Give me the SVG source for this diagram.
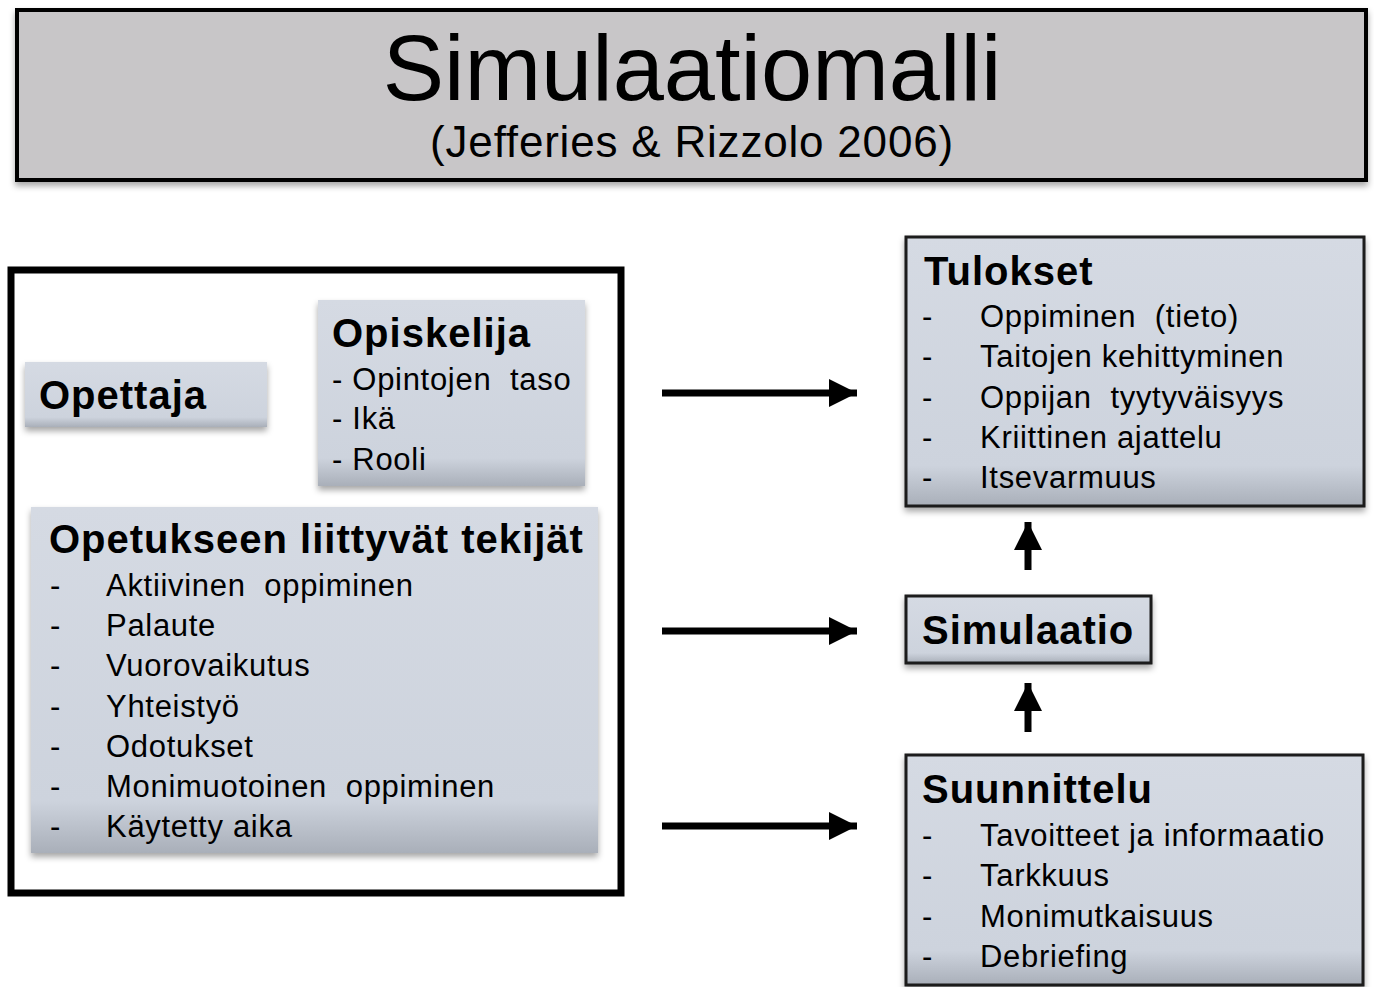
<svg xmlns="http://www.w3.org/2000/svg" width="1374" height="987" viewBox="0 0 1374 987">
<defs>
<linearGradient id="g" x1="0" y1="0" x2="0" y2="1">
<stop offset="0" stop-color="#d5dae3"/>
<stop offset="0.85" stop-color="#cdd3dd"/>
<stop offset="1" stop-color="#a9afb9"/>
</linearGradient>
<filter id="sh" x="-10%" y="-10%" width="120%" height="130%">
<feDropShadow dx="0" dy="4" stdDeviation="3" flood-color="#000" flood-opacity="0.35"/>
</filter>
<marker id="ah" viewBox="0 0 10 10" refX="10" refY="5" markerWidth="4.2" markerHeight="4" markerUnits="strokeWidth" orient="auto">
<path d="M0,0 L10,5 L0,10 Z" fill="#000"/>
</marker>
</defs>
<style>
text{font-family:"Liberation Sans",Arial,sans-serif;fill:#000;white-space:pre}
.h{font-weight:bold;font-size:40px;letter-spacing:1px}
.i{font-size:31px;letter-spacing:0.7px}
.box{fill:url(#g);filter:url(#sh)}
.bbox{fill:url(#g);stroke:#1a1a1a;stroke-width:3;filter:url(#sh)}
.arr{stroke:#000;stroke-width:7;fill:none;marker-end:url(#ah)}
</style>
<rect width="1374" height="987" fill="#fff"/>

<g id="title">
<rect x="17" y="10" width="1349" height="170" fill="#c8c6c8" stroke="#000" stroke-width="4" filter="url(#sh)"/>
<text x="692" y="100" text-anchor="middle" font-size="92">Simulaatiomalli</text>
<text x="692" y="157" text-anchor="middle" font-size="44" letter-spacing="0.8">(Jefferies &amp; Rizzolo 2006)</text>
</g>

<g id="container">
<rect x="11" y="270" width="610" height="623" fill="none" stroke="#000" stroke-width="7"/>
</g>

<g id="opettaja">
<rect x="25" y="362" width="242" height="65" class="box"/>
<text x="39" y="409" class="h">Opettaja</text>
</g>

<g id="opiskelija">
<rect x="318" y="300" width="267" height="186" class="box"/>
<text x="332" y="347" class="h">Opiskelija</text>
<text x="332" y="390" class="i">- Opintojen  taso</text>
<text x="332" y="429" class="i">- Ikä</text>
<text x="332" y="470" class="i">- Rooli</text>
</g>

<g id="opetus">
<rect x="31" y="507" width="567" height="346" class="box"/>
<text x="49" y="553" class="h">Opetukseen liittyvät tekijät</text>
<text x="50" y="596" class="i">-</text><text x="106" y="596" class="i">Aktiivinen  oppiminen</text>
<text x="50" y="636" class="i">-</text><text x="106" y="636" class="i">Palaute</text>
<text x="50" y="676" class="i">-</text><text x="106" y="676" class="i">Vuorovaikutus</text>
<text x="50" y="717" class="i">-</text><text x="106" y="717" class="i">Yhteistyö</text>
<text x="50" y="757" class="i">-</text><text x="106" y="757" class="i">Odotukset</text>
<text x="50" y="797" class="i">-</text><text x="106" y="797" class="i">Monimuotoinen  oppiminen</text>
<text x="50" y="837" class="i">-</text><text x="106" y="837" class="i">Käytetty aika</text>
</g>

<g id="tulokset">
<rect x="906" y="237" width="458" height="269" class="bbox"/>
<text x="924" y="285" class="h">Tulokset</text>
<text x="922" y="327" class="i">-</text><text x="980" y="327" class="i">Oppiminen  (tieto)</text>
<text x="922" y="367" class="i">-</text><text x="980" y="367" class="i">Taitojen kehittyminen</text>
<text x="922" y="408" class="i">-</text><text x="980" y="408" class="i">Oppijan  tyytyväisyys</text>
<text x="922" y="448" class="i">-</text><text x="980" y="448" class="i">Kriittinen ajattelu</text>
<text x="922" y="488" class="i">-</text><text x="980" y="488" class="i">Itsevarmuus</text>
</g>

<g id="simulaatio">
<rect x="906" y="596" width="245" height="67" class="bbox"/>
<text x="922" y="644" class="h">Simulaatio</text>
</g>

<g id="suunnittelu">
<rect x="906" y="755" width="457" height="230" class="bbox"/>
<text x="922" y="803" class="h">Suunnittelu</text>
<text x="922" y="846" class="i">-</text><text x="980" y="846" class="i">Tavoitteet ja informaatio</text>
<text x="922" y="886" class="i">-</text><text x="980" y="886" class="i">Tarkkuus</text>
<text x="922" y="927" class="i">-</text><text x="980" y="927" class="i">Monimutkaisuus</text>
<text x="922" y="967" class="i">-</text><text x="980" y="967" class="i">Debriefing</text>
</g>

<g id="connectors">
<line x1="662" y1="393" x2="857" y2="393" class="arr"/>
<line x1="662" y1="631" x2="857" y2="631" class="arr"/>
<line x1="662" y1="826" x2="857" y2="826" class="arr"/>
<line x1="1028" y1="570" x2="1028" y2="522" class="arr"/>
<line x1="1028" y1="732" x2="1028" y2="683" class="arr"/>
</g>
</svg>
